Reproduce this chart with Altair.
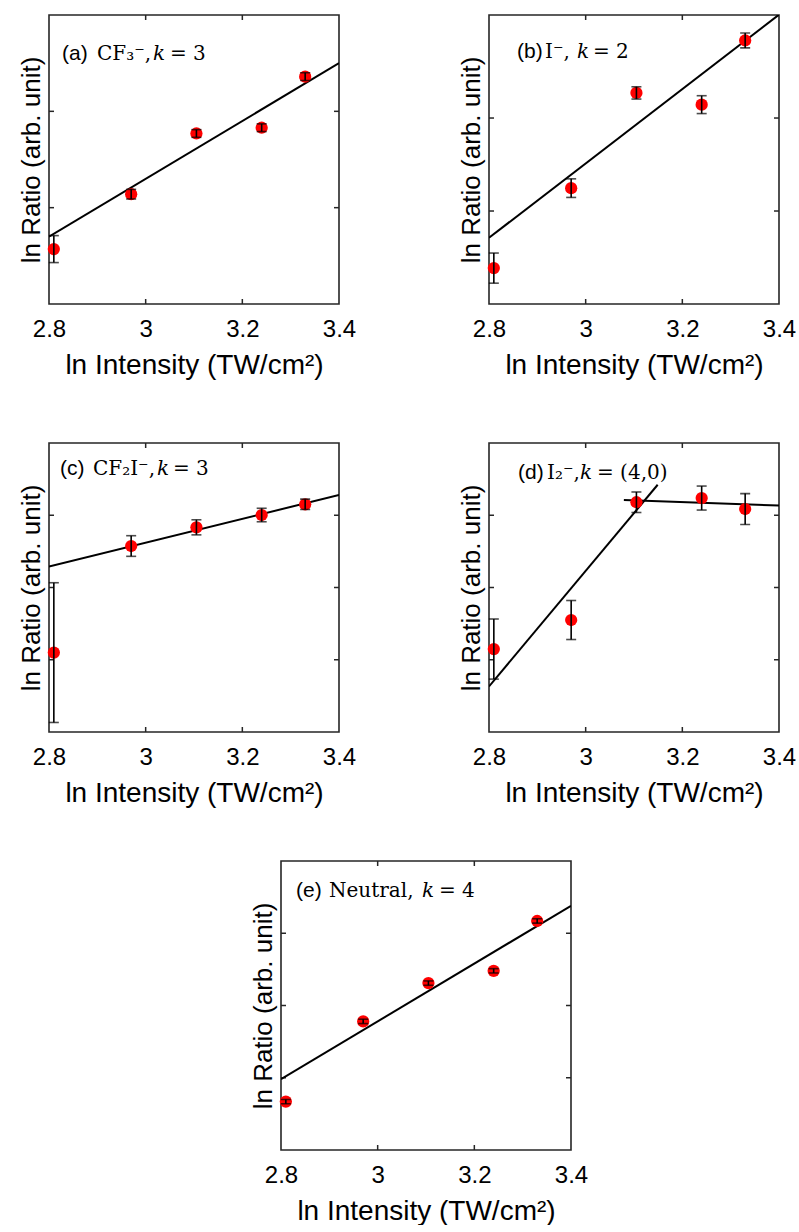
import altair as alt
import pandas as pd

# ln of the laser intensity (TW/cm^2) at the five measurement points
ln_intensity = [2.81, 2.97, 3.105, 3.24, 3.33]
x_tick_values = [2.8, 3.0, 3.2, 3.4]
x_inner_ticks = [3.0, 3.2]

panel_tags = ["(a)", "(b)", "(c)", "(d)", "(e)"]
species = ["CF₃⁻,", "I⁻,", "CF₂I⁻,", "I₂⁻,", "Neutral,"]
k_values = ["= 3", "= 2", "= 3", "= (4,0)", "= 4"]

# ln ratio (arbitrary offset) and its error for each channel
ratio_a = [0.57, 1.14, 1.77, 1.83, 2.36]
err_a = [0.14, 0.05, 0.04, 0.04, 0.04]
ratio_b = [0.193, 0.623, 1.135, 1.072, 1.417]
err_b = [0.081, 0.05, 0.033, 0.048, 0.04]
ratio_c = [2.0, 4.685, 5.156, 5.466, 5.735]
err_c = [1.76, 0.26, 0.19, 0.17, 0.13]
ratio_d = [0.574, 0.775, 1.59, 1.619, 1.543]
err_d = [0.208, 0.135, 0.071, 0.083, 0.107]
ratio_e = [0.67, 1.78, 2.31, 2.48, 3.17]
err_e = [0.03, 0.03, 0.03, 0.03, 0.03]

# power-law fits, one tuple per segment: (x start, x end, value at x start, slope k)
fit_a = [(2.8, 3.4, 0.70, 3)]
fit_b = [(2.8, 3.4, 0.356, 2)]
fit_c = [(2.8, 3.4, 4.17, 3)]
fit_d = [(2.8, 3.149, 0.315, 4), (3.079, 3.4, 1.606, -0.12)]
fit_e = [(2.8, 3.4, 0.98, 4)]

y_domains = [(0, 3), (0, 1.554), (0, 7.28), (0, 2), (0, 4)]
y_ticks = [[1, 2], [0.5, 1.0], [1.82, 3.64, 5.46], [0.5, 1.0, 1.5], [1, 2, 3]]

ratios = [ratio_a, ratio_b, ratio_c, ratio_d, ratio_e]
errors = [err_a, err_b, err_c, err_d, err_e]
fits = [fit_a, fit_b, fit_c, fit_d, fit_e]

# text placement inside each panel: tag, species, k, "= n", baseline
label_layout = [
    (13, 48, 104, 121, 45),
    (28, 56, 88, 104, 43),
    (11, 44, 108, 124, 32),
    (29, 58, 91, 108, 36),
    (15, 48, 141, 158, 36),
]

W, H = 290, 289
FRAME = "#262626"
SANS = "Liberation Sans"
SERIF = "DejaVu Serif"


def make_panel(i):
    xs = alt.Scale(domain=[2.8, 3.4], nice=False, zero=False)
    ys = alt.Scale(domain=list(y_domains[i]), nice=False, zero=False)
    x_axis = alt.Axis(values=x_tick_values, format="~g", ticks=False, domain=False,
                      grid=False, labelFontSize=24, labelPadding=13, labelFlush=False,
                      labelOverlap=False, title="ln Intensity (TW/cm²)",
                      titleFontSize=28, titlePadding=10)
    y_axis = alt.Axis(labels=False, ticks=False, domain=False, grid=False,
                      title="ln Ratio (arb. unit)", titleFontSize=26, titlePadding=5)

    pts = pd.DataFrame({"x": ln_intensity, "y": ratios[i], "e": errors[i]})
    pts["lo"] = pts["y"] - pts["e"]
    pts["hi"] = pts["y"] + pts["e"]

    rows = []
    for s, (x0, x1, y0, k) in enumerate(fits[i]):
        rows.append({"seg": s, "x": x0, "y": y0})
        rows.append({"seg": s, "x": x1, "y": y0 + k * (x1 - x0)})
    fit_df = pd.DataFrame(rows)

    X = lambda f: alt.X(f, type="quantitative", scale=xs, axis=x_axis)
    Y = lambda f: alt.Y(f, type="quantitative", scale=ys, axis=y_axis)

    frame = alt.Chart(pd.DataFrame({"f": [0]})).mark_rect(
        fillOpacity=0, stroke=FRAME, strokeWidth=1.6
    ).encode(x=alt.value(0), x2=alt.value(W), y=alt.value(0), y2=alt.value(H))

    xt = pd.DataFrame({"t": x_inner_ticks})
    yt = pd.DataFrame({"t": y_ticks[i]})
    tick_style = dict(color=FRAME, strokeWidth=1.5)
    xt_bottom = alt.Chart(xt).mark_rule(**tick_style).encode(
        x=X("t"), y=alt.value(H), y2=alt.value(H - 5))
    xt_top = alt.Chart(xt).mark_rule(**tick_style).encode(
        x=X("t"), y=alt.value(0), y2=alt.value(5))
    yt_left = alt.Chart(yt).mark_rule(**tick_style).encode(
        y=Y("t"), x=alt.value(0), x2=alt.value(5))
    yt_right = alt.Chart(yt).mark_rule(**tick_style).encode(
        y=Y("t"), x=alt.value(W), x2=alt.value(W - 5))

    line = alt.Chart(fit_df).mark_line(color="black", strokeWidth=2, clip=True).encode(
        x=X("x"), y=Y("y"), detail="seg:N")

    dots = alt.Chart(pts).mark_circle(size=150, color="#ff0000", opacity=1).encode(
        x=X("x"), y=Y("y"))
    bars = alt.Chart(pts).mark_rule(color="black", strokeWidth=1.6).encode(
        x=X("x"), y=Y("lo"), y2="hi")
    cap_lo = alt.Chart(pts).mark_tick(orient="horizontal", size=10, thickness=1.6,
                                      color="black").encode(x=X("x"), y=Y("lo"))
    cap_hi = alt.Chart(pts).mark_tick(orient="horizontal", size=10, thickness=1.6,
                                      color="black").encode(x=X("x"), y=Y("hi"))

    tdx, sdx, kdx, edx, by = label_layout[i]
    lab = pd.DataFrame({"tag": [panel_tags[i]], "sp": [species[i]],
                        "k": ["k"], "eq": [k_values[i]]})
    tag = alt.Chart(lab).mark_text(font=SANS, fontSize=21, align="left",
                                   baseline="alphabetic", color="black").encode(
        x=alt.value(tdx), y=alt.value(by), text="tag:N")
    sp = alt.Chart(lab).mark_text(font=SERIF, fontSize=20, align="left",
                                  baseline="alphabetic", color="black").encode(
        x=alt.value(sdx), y=alt.value(by), text="sp:N")
    kk = alt.Chart(lab).mark_text(font=SERIF, fontSize=20, fontStyle="italic",
                                  align="left", baseline="alphabetic", color="black").encode(
        x=alt.value(kdx), y=alt.value(by), text="k:N")
    eq = alt.Chart(lab).mark_text(font=SERIF, fontSize=20, align="left",
                                  baseline="alphabetic", color="black").encode(
        x=alt.value(edx), y=alt.value(by), text="eq:N")

    return alt.layer(
        frame, xt_bottom, xt_top, yt_left, yt_right, line, dots, bars, cap_lo, cap_hi,
        tag, sp, kk, eq
    ).properties(width=W, height=H)


panels = [make_panel(i) for i in range(5)]

spacer = alt.Chart(pd.DataFrame({"v": [0]})).mark_point(opacity=0).encode(
    x=alt.X("v:Q", axis=None), y=alt.Y("v:Q", axis=None)
).properties(width=201, height=10)

row1 = alt.hconcat(panels[0], panels[1], spacing=102)
row2 = alt.hconcat(panels[2], panels[3], spacing=102)
row3 = alt.hconcat(spacer, panels[4], spacing=0)

top_rows = alt.vconcat(row1, row2, spacing=63)
chart = alt.vconcat(top_rows, row3, spacing=53).properties(
    padding={"left": 18, "top": 14, "right": 0, "bottom": 0}
).configure_view(stroke=None).configure_axis(
    labelFont=SANS, titleFont=SANS, labelColor="black", titleColor="black",
    titleFontWeight="normal"
)

chart.save("out.html", embed_options={"renderer": "svg", "actions": False})
